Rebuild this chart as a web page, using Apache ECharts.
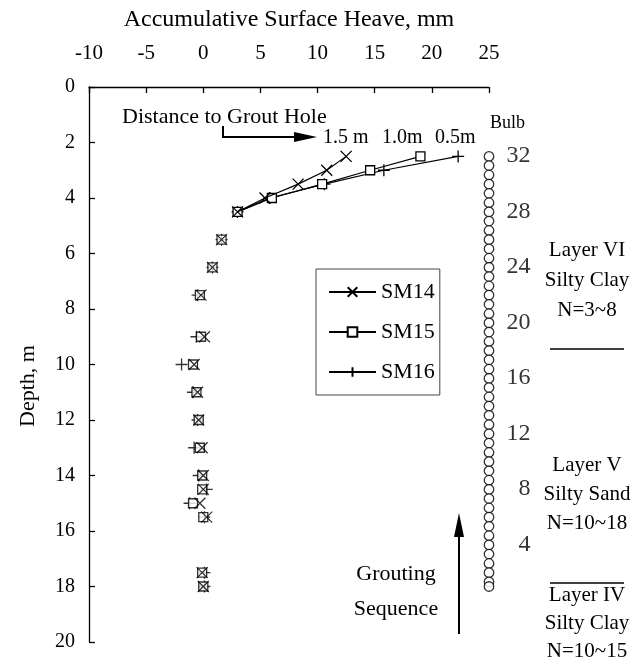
<!DOCTYPE html>
<html><head><meta charset="utf-8">
<script src="https://cdn.jsdelivr.net/npm/echarts@6/dist/echarts.min.js"></script>
<style>html,body{margin:0;padding:0;background:#fff}#c{width:633px;height:661px}</style>
</head><body><div id="c"></div>
<script>
// ---- data ----
const depthsTop = [2.5, 3.0, 3.5, 4.0, 4.5];
const sm14Top = [12.5, 10.8, 8.3, 5.4, 3.0];
const sm15Top = [19.0, 14.6, 10.4, 6.0, 3.0];
const sm16Top = [22.3, 15.8, 10.6, 5.8, 3.0];
const depthsLow = [5.5, 6.5, 7.5, 9.0, 10.0, 11.0, 12.0, 13.0, 14.0, 14.5, 15.0, 15.5, 17.5, 18.0];
const sm14Low = [1.6, 0.8, -0.2, 0.1, -0.8, -0.5, -0.4, -0.1, 0.0, 0.0, -0.3, 0.3, -0.1, 0.0];
const sm15Low = [1.6, 0.8, -0.3, -0.2, -0.9, -0.6, -0.4, -0.3, -0.1, -0.1, -0.9, 0.0, -0.1, 0.0];
const sm16Low = [1.6, 0.8, -0.5, -0.6, -1.9, -0.9, -0.5, -0.8, -0.4, 0.3, -1.2, 0.1, 0.1, 0.1];
const seriesNames = ['SM14', 'SM15', 'SM16'];
const bulbX = 25;
const bulbDepths = [2.5, 2.83, 3.17, 3.5, 3.83, 4.17, 4.5, 4.83, 5.17, 5.5, 5.83, 6.17, 6.5, 6.83, 7.17, 7.5,
  7.83, 8.17, 8.5, 8.83, 9.17, 9.5, 9.83, 10.17, 10.5, 10.83, 11.17, 11.5, 11.83, 12.17, 12.5, 12.83, 13.17,
  13.5, 13.83, 14.17, 14.5, 14.83, 15.17, 15.5, 15.83, 16.17, 16.5, 16.83, 17.17, 17.5, 17.83, 18.0];
const bulbNumbers = [32, 28, 24, 20, 16, 12, 8, 4];
const bulbNumberDepths = [2.5, 4.5, 6.5, 8.5, 10.5, 12.5, 14.5, 16.5];
const xMin = -10, xMax = 25, xStep = 5;
const yMin = 0, yMax = 20, yStep = 2;

// ---- chart ----
const FONT = 'Liberation Serif';
const chart = echarts.init(document.getElementById('c'), null, {renderer: 'canvas'});
const symX = 'path://M0,0L10,10M10,0L0,10';
const symPlus = 'path://M5,0L5,10M0,5L10,5';
const markers = [
  {symbol: symX, size: 11, fill: 'transparent'},
  {symbol: 'rect', size: 9, fill: '#fff'},
  {symbol: symPlus, size: 12, fill: 'transparent'}
];
const tops = [sm14Top, sm15Top, sm16Top];
const lows = [sm14Low, sm15Low, sm16Low];
const series = [];
seriesNames.forEach((nm, i) => {
  const m = markers[i];
  series.push({
    name: nm, type: 'line', data: tops[i].map((v, k) => [v, depthsTop[k]]),
    symbol: m.symbol, symbolSize: m.size, showAllSymbol: true,
    lineStyle: {color: '#000', width: 1.2},
    itemStyle: {color: m.fill, borderColor: '#000', borderWidth: 1.3},
    emphasis: {disabled: true}, animation: false, clip: false, z: 3 - i
  });
  series.push({
    name: nm, type: 'scatter', data: lows[i].map((v, k) => [v, depthsLow[k]]),
    symbol: m.symbol, symbolSize: m.size,
    itemStyle: {color: m.fill, borderColor: '#000', borderWidth: 1.3},
    emphasis: {disabled: true}, animation: false, clip: false, z: 3 - i
  });
});
series.push({
  type: 'scatter', data: bulbDepths.map(d => [bulbX, d]), symbol: 'circle', symbolSize: 9.5,
  itemStyle: {color: '#fff', borderColor: '#000', borderWidth: 1.3},
  clip: false, animation: false, emphasis: {disabled: true}, silent: true
});
series.push({
  type: 'scatter', data: bulbNumbers.map((n, k) => ({value: [bulbX, bulbNumberDepths[k]], name: String(n)})),
  symbolSize: 1, itemStyle: {color: 'transparent'}, clip: false, animation: false, silent: true,
  label: {show: true, position: [42, 0], align: 'right', verticalAlign: 'middle',
    formatter: p => p.name, fontFamily: FONT, fontSize: 24, color: '#000'}
});

const T = (x, y, text, size, align, rot) => ({type: 'text', x: x, y: y, rotation: rot || 0,
  style: {text: text, font: size + 'px "' + FONT + '"', fill: '#000', align: align || 'left', verticalAlign: 'middle'}});

const option = {
  animation: false,
  backgroundColor: '#fff',
  grid: {left: 89, top: 87, width: 400, height: 555, containLabel: false},
  xAxis: {
    type: 'value', position: 'top', min: xMin, max: xMax, interval: xStep,
    name: 'Accumulative Surface Heave, mm', nameLocation: 'middle', nameGap: 55,
    nameTextStyle: {fontFamily: FONT, fontSize: 24, color: '#000'},
    axisLine: {show: true, onZero: false, lineStyle: {color: '#000', width: 1.3}},
    axisTick: {show: true, inside: true, length: 6, lineStyle: {color: '#000', width: 1.3}},
    axisLabel: {fontFamily: FONT, fontSize: 21, color: '#000', margin: 23},
    splitLine: {show: false}
  },
  yAxis: {
    type: 'value', inverse: true, min: yMin, max: yMax, interval: yStep,
    axisLine: {show: true, onZero: false, lineStyle: {color: '#000', width: 1.3}},
    axisTick: {show: true, inside: true, length: 6, lineStyle: {color: '#000', width: 1.3}},
    axisLabel: {fontFamily: FONT, fontSize: 20, color: '#000', margin: 14},
    splitLine: {show: false}
  },
  legend: {
    data: seriesNames, orient: 'vertical', left: 316, top: 269,
    padding: [12, 5, 12, 12], itemGap: 18, itemWidth: 47, itemHeight: 12,
    borderColor: '#444', borderWidth: 1, backgroundColor: '#fff',
    textStyle: {fontFamily: FONT, fontSize: 22, color: '#000'}
  },
  series: series,
  graphic: [
    T(28, 386, 'Depth, m', 22, 'center', Math.PI / 2),
    T(122, 117, 'Distance to Grout Hole', 22),
    {type: 'polyline', shape: {points: [[223, 126], [223, 137], [298, 137]]}, style: {stroke: '#000', lineWidth: 2, fill: null}},
    {type: 'polygon', shape: {points: [[294, 132], [317, 137], [294, 142]]}, style: {fill: '#000'}},
    T(323, 138, '1.5 m', 20),
    T(382, 138, '1.0m', 20),
    T(435, 138, '0.5m', 20),
    T(490, 123, 'Bulb', 18),
    T(587, 250, 'Layer VI', 21, 'center'),
    T(587, 280, 'Silty Clay', 21, 'center'),
    T(587, 310, 'N=3~8', 21, 'center'),
    {type: 'line', shape: {x1: 550, y1: 349, x2: 624, y2: 349}, style: {stroke: '#000', lineWidth: 1.3}},
    T(587, 465, 'Layer V', 21, 'center'),
    T(587, 494, 'Silty Sand', 21, 'center'),
    T(587, 523, 'N=10~18', 21, 'center'),
    {type: 'line', shape: {x1: 550, y1: 583, x2: 624, y2: 583}, style: {stroke: '#000', lineWidth: 1.3}},
    T(587, 595, 'Layer IV', 21, 'center'),
    T(587, 623, 'Silty Clay', 21, 'center'),
    T(587, 651, 'N=10~15', 21, 'center'),
    T(396, 574, 'Grouting', 22, 'center'),
    T(396, 609, 'Sequence', 22, 'center'),
    {type: 'line', shape: {x1: 459, y1: 634, x2: 459, y2: 530}, style: {stroke: '#000', lineWidth: 2}},
    {type: 'polygon', shape: {points: [[454, 537], [459, 513], [464, 537]]}, style: {fill: '#000'}}
  ]
};
chart.setOption(option);
</script></body></html>
